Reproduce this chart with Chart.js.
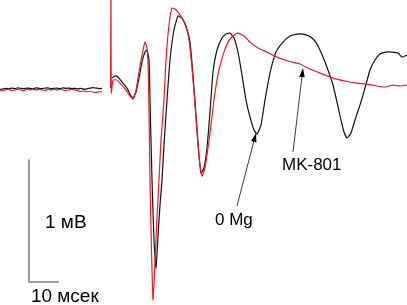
<!DOCTYPE html>
<html><head><meta charset="utf-8">
<script src="https://cdn.jsdelivr.net/npm/chart.js@4/dist/chart.umd.min.js"></script>
<style>html,body{margin:0;padding:0;background:#fff;overflow:hidden}canvas{display:block}</style>
</head><body>
<canvas id="c" width="407" height="305"></canvas>
<script>
// Time in ms (0 = stimulus), potential in mV
const baseTimes = [-37,-36,-35,-34,-33,-32,-31,-30,-29,-28,-27,-26,-25,-24,-23,-22,-21,-20,-19,-18,-17,-16,-15,-14,-13,-12,-11,-10,-9,-8,-7,-6,-5,-4,-3];
const baseBlack = [0.004,0.010,0.014,0.010,0.016,0.012,0.018,0.014,0.010,0.016,0.014,0.010,0.018,0.014,0.012,0.016,0.018,0.012,0.014,0.016,0.012,0.018,0.014,0.016,0.012,0.014,0.010,0.014,0.006,0.010,0.016,0.020,0.016,0.012,0.014];
const baseRed = [0.0,-0.006,0.002,0.006,-0.004,0.002,0.006,0.0,-0.004,0.006,0.002,0.006,0.0,0.006,0.002,-0.004,0.006,0.0,0.006,0.002,0.006,0.0,-0.004,0.002,0.006,0.0,-0.006,-0.012,-0.008,-0.014,-0.010,-0.016,-0.020,-0.014,-0.016];

const blackTimes = [0.33,1.33,2.33,3.67,5.33,6.33,7.33,8.33,9.33,10.33,11.33,12.0,12.67,13.0,13.67,14.33,15.0,15.67,16.33,17.0,17.67,18.67,19.67,21.0,22.33,23.67,25.0,26.33,27.33,28.33,29.33,30.0,31.0,32.0,33.0,34.0,35.33,37.0,38.33,39.67,41.0,42.33,43.67,45.0,46.33,47.67,48.67,50.0,51.33,53.0,55.0,57.33,59.67,62.0,64.0,66.0,67.67,69.0,70.67,72.33,74.0,75.33,76.67,77.67,78.67,80.0,81.33,83.0,84.67,86.33,88.0,89.67,91.67,93.67,95.67,97.0,98.67];
const blackValues = [0.098,0.115,0.107,0.066,0.016,-0.033,-0.066,-0.016,0.098,0.230,0.311,0.328,0.246,-0.082,-0.738,-1.230,-1.459,-1.197,-0.943,-0.738,-0.451,-0.082,0.246,0.492,0.607,0.590,0.525,0.393,0.123,-0.205,-0.533,-0.680,-0.639,-0.475,-0.180,0.148,0.328,0.426,0.459,0.467,0.426,0.311,0.123,-0.082,-0.221,-0.328,-0.361,-0.287,-0.082,0.139,0.311,0.393,0.443,0.459,0.459,0.443,0.410,0.361,0.270,0.164,0.041,-0.098,-0.246,-0.344,-0.393,-0.352,-0.246,-0.123,0.016,0.164,0.246,0.295,0.311,0.311,0.303,0.270,0.287];

const redTimes = [-0.17,0.0,0.1,0.67,2.0,3.33,5.0,6.33,7.33,8.33,9.33,10.33,11.33,12.0,12.5,13.0,13.5,14.0,14.67,15.33,16.0,16.67,17.67,18.33,19.33,20.33,21.33,22.33,23.67,25.0,26.0,27.0,28.0,29.0,29.67,30.33,31.33,32.33,33.33,34.33,35.33,36.33,37.67,39.0,40.67,42.33,44.33,46.33,49.0,52.0,55.33,59.0,63.0,66.33,69.67,74.0,78.0,82.0,85.33,88.67,91.33,94.0,96.33,98.67];
const redValues = [0.016,0.85,-0.025,0.082,0.082,0.049,0.0,-0.049,-0.074,0.0,0.148,0.287,0.393,0.344,0.082,-0.738,-1.311,-1.721,-1.41,-1.049,-0.738,-0.410,-0.082,0.246,0.533,0.672,0.664,0.639,0.590,0.516,0.410,0.180,-0.123,-0.451,-0.615,-0.705,-0.639,-0.475,-0.287,-0.082,0.082,0.197,0.311,0.393,0.443,0.467,0.443,0.393,0.344,0.311,0.270,0.238,0.213,0.172,0.139,0.098,0.074,0.057,0.049,0.033,0.025,0.041,0.033,0.041];

// scale bar: 1 mV x 10 ms
const scaleBarTimes = [-27.33,-27.33,-17.33];
const scaleBarValues = [-0.574,-1.574,-1.574];

const labels = ["1 мВ","10 мсек","0 Mg","MK-801"];

function pts(t,v){return t.map((x,i)=>({x:x,y:v[i]}));}
const gap = {x:-1.5,y:null};

const overlay = {
  id:'overlay',
  afterDatasetsDraw(chart){
    const {ctx,scales:{x,y}} = chart;
    const P=(t,v)=>[x.getPixelForValue(t),y.getPixelForValue(v)];
    ctx.save();
    ctx.fillStyle='#000';
    ctx.textBaseline='alphabetic';
    const textPos=[[-22,-1.131],[-26.7,-1.735],[34.67,-1.107],[57,-0.656]];
    const sizes=[19,19,17,17];
    labels.forEach((s,i)=>{
      ctx.font=sizes[i]+'px "Liberation Sans", Arial, sans-serif';
      const p=P(textPos[i][0],textPos[i][1]);ctx.fillText(s,p[0],p[1]);
    });
    const arrows=[[[42.0,-0.951],[48.33,-0.352]],[[60.67,-0.508],[64.0,0.180]]];
    ctx.strokeStyle='#222';ctx.lineWidth=0.9;
    arrows.forEach(a=>{
      const p0=P(a[0][0],a[0][1]),p1=P(a[1][0],a[1][1]);
      const ang=Math.atan2(p1[1]-p0[1],p1[0]-p0[0]);
      ctx.beginPath();ctx.moveTo(p0[0],p0[1]);ctx.lineTo(p1[0]-Math.cos(ang)*6,p1[1]-Math.sin(ang)*6);ctx.stroke();
      ctx.beginPath();
      ctx.moveTo(p1[0],p1[1]);
      ctx.lineTo(p1[0]-Math.cos(ang)*9+Math.sin(ang)*2.8,p1[1]-Math.sin(ang)*9-Math.cos(ang)*2.8);
      ctx.lineTo(p1[0]-Math.cos(ang)*9-Math.sin(ang)*2.8,p1[1]-Math.sin(ang)*9+Math.cos(ang)*2.8);
      ctx.closePath();ctx.fill();
    });
    ctx.restore();
  }
};

new Chart(document.getElementById('c'),{
  type:'line',
  data:{datasets:[
    {label:'MK-801',data:pts(baseTimes,baseRed).concat([gap],pts(redTimes,redValues)),borderColor:'#ee1c24',borderWidth:1.2,order:0,tension:0.15},
    {label:'0 Mg',data:pts(baseTimes,baseBlack).concat([gap],pts(blackTimes,blackValues)),borderColor:'#111',borderWidth:1.2,order:1,tension:0.15},
    {label:'scale',data:pts(scaleBarTimes,scaleBarValues),borderColor:'#808080',borderWidth:1.6,order:2,tension:0}
  ]},
  options:{
    responsive:false,animation:false,devicePixelRatio:1,
    layout:{padding:0},
    spanGaps:false,
    elements:{point:{radius:0},line:{borderJoinStyle:'round'}},
    scales:{
      x:{type:'linear',min:-37,max:98.67,display:false},
      y:{type:'linear',min:-1.762,max:0.738,display:false}
    },
    plugins:{legend:{display:false},tooltip:{enabled:false}}
  },
  plugins:[overlay]
});
</script>
</body></html>
